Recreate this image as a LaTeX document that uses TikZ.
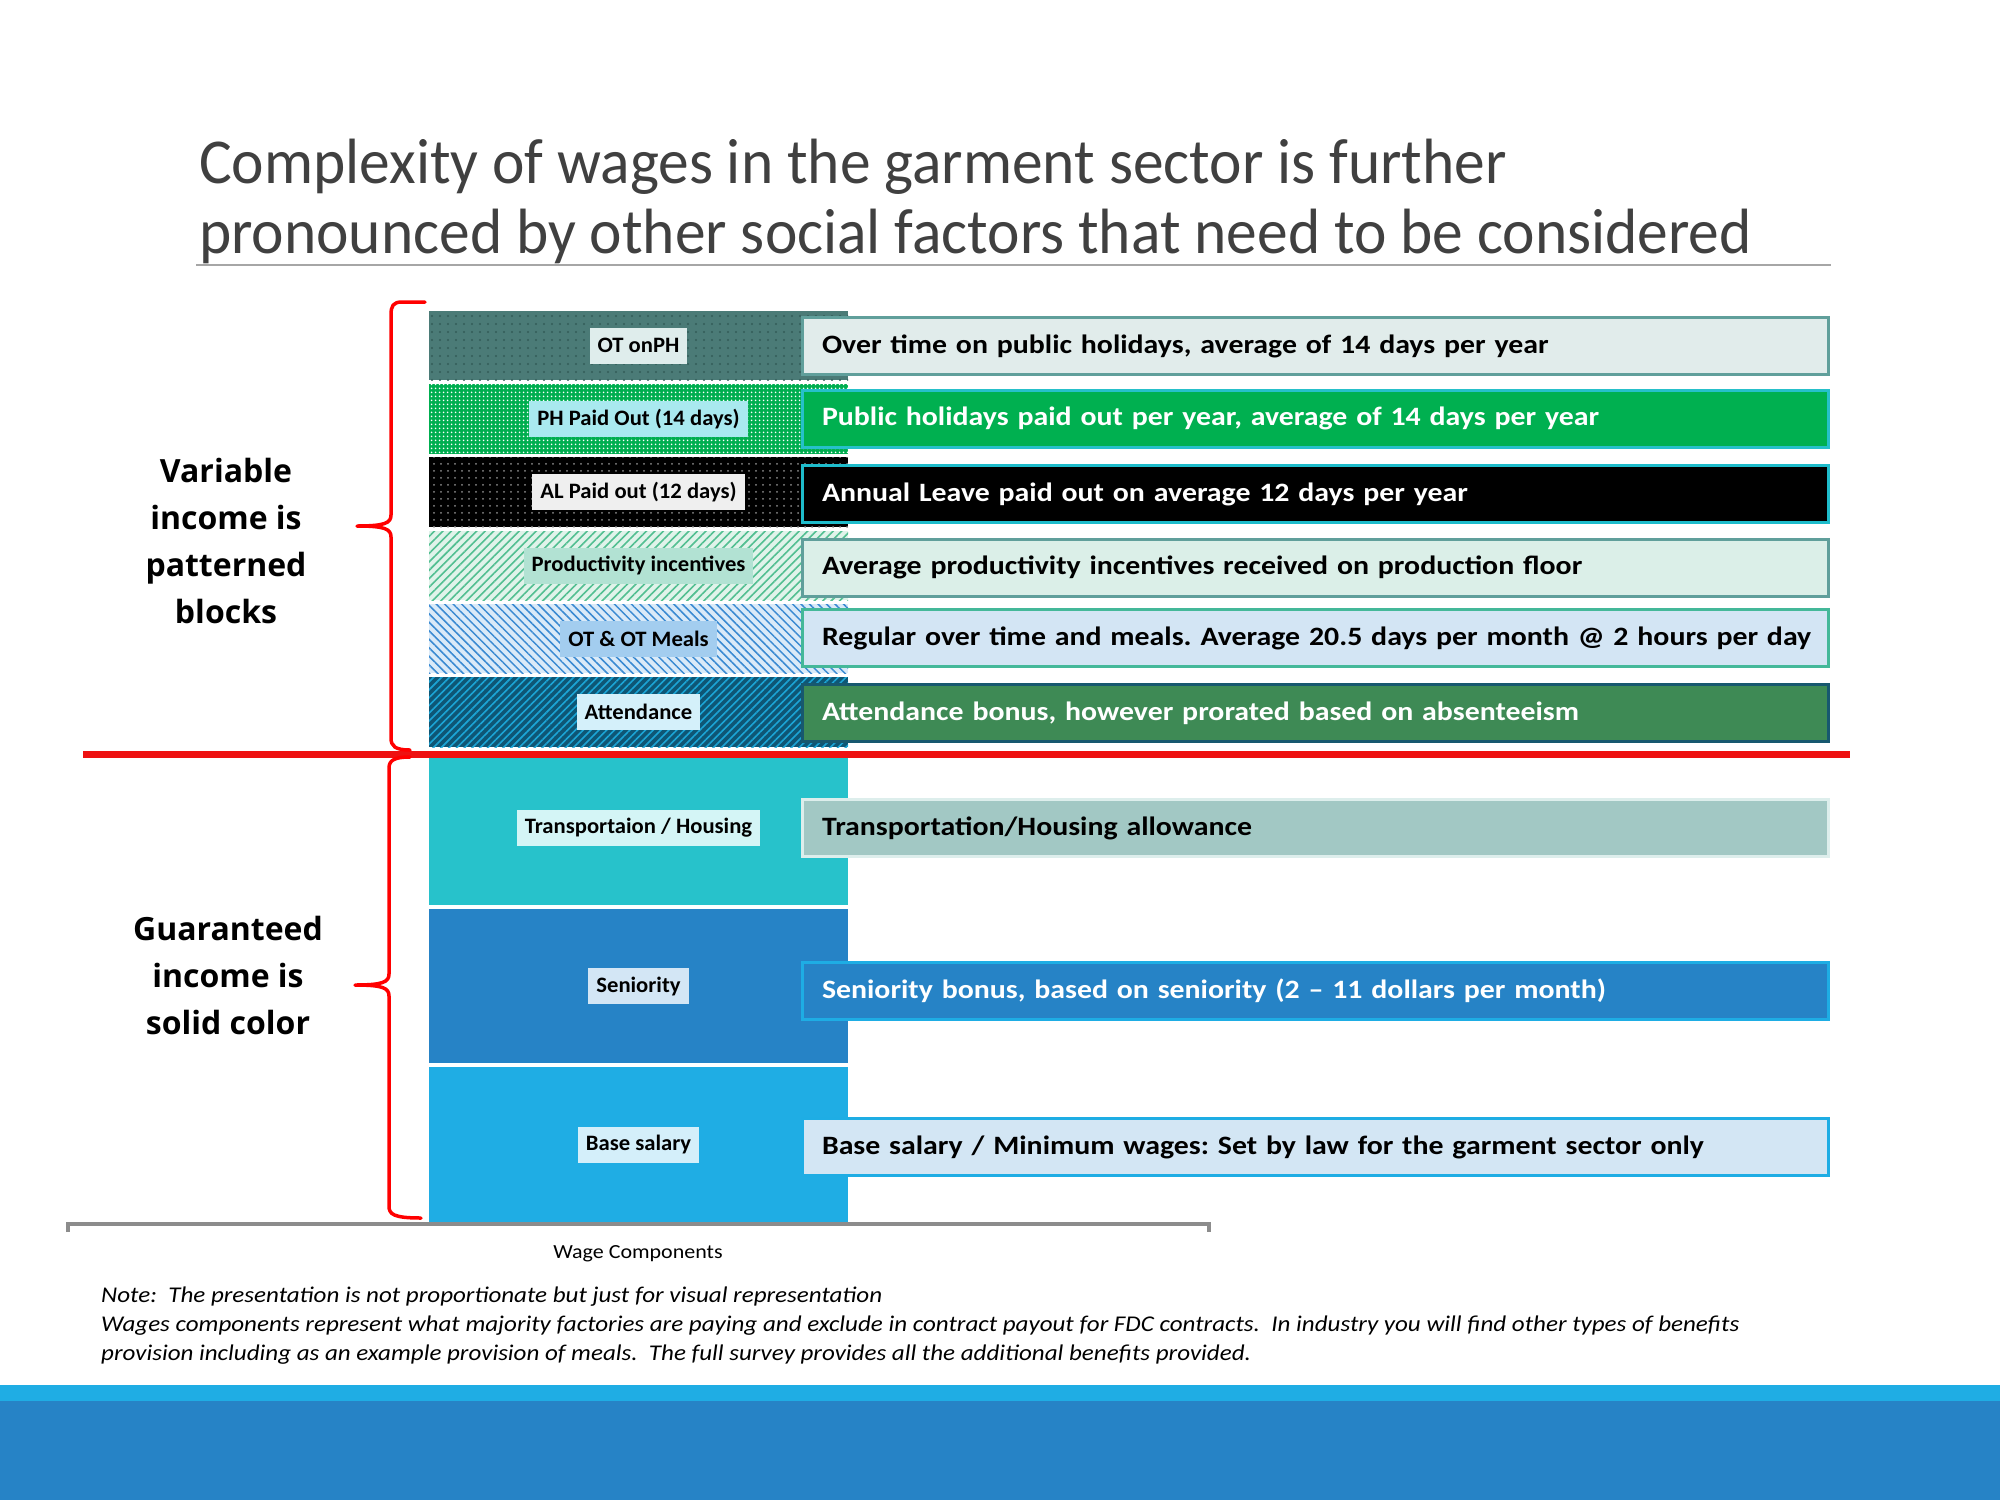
\documentclass[tikz,border=0pt]{standalone}
\usepackage{fontspec}
\setmainfont{Carlito}
\newfontfamily\sidefont{Open Sans}
\newfontfamily\descfont[FakeStretch=1.126]{Carlito}
\newfontfamily\titlefont[FakeStretch=0.96]{Carlito}
\newfontfamily\notefont[FakeStretch=1.113]{Carlito}
\newfontfamily\wagefont[FakeStretch=1.1]{Carlito}
\newfontfamily\tagfont[FakeStretch=1.03]{Carlito}
\usetikzlibrary{patterns.meta}
\frenchspacing
\definecolor{ttl}{HTML}{404040}
\definecolor{rulegray}{HTML}{A6A6A6}
\definecolor{bracered}{HTML}{FF0000}
\definecolor{linered}{HTML}{EE1111}
\definecolor{axisgray}{HTML}{8C8C8C}
\definecolor{bA}{HTML}{4B7B77}\definecolor{bAd}{HTML}{335C58}
\definecolor{bB}{HTML}{00AE50}
\definecolor{bCd}{HTML}{8A8A8A}
\definecolor{bD}{HTML}{E0F3EA}\definecolor{bDl}{HTML}{52BF91}
\definecolor{bE}{HTML}{DAEAF8}\definecolor{bEl}{HTML}{3A8AD2}
\definecolor{bF}{HTML}{0E5675}\definecolor{bFl}{HTML}{1CA5D6}
\definecolor{bG}{HTML}{27C2CB}
\definecolor{bH}{HTML}{2683C6}
\definecolor{bI}{HTML}{1FADE4}
\definecolor{lA}{HTML}{DFEDEC}\definecolor{lB}{HTML}{A9E9EF}\definecolor{lC}{HTML}{EFEFEF}
\definecolor{lD}{HTML}{B2E2D3}\definecolor{lE}{HTML}{A3CDEF}\definecolor{lF}{HTML}{D4F0FA}
\definecolor{lG}{HTML}{D4F5F6}\definecolor{lH}{HTML}{D3E6F5}\definecolor{lI}{HTML}{D4EFFA}
\definecolor{dA}{HTML}{E1ECEB}\definecolor{dAb}{HTML}{609F9B}
\definecolor{dB}{HTML}{00B050}\definecolor{dBb}{HTML}{26C0CA}
\definecolor{dCb}{HTML}{1EBCCB}
\definecolor{dD}{HTML}{DBEFE8}
\definecolor{dE}{HTML}{D3E5F4}\definecolor{dEb}{HTML}{44B899}
\definecolor{dF}{HTML}{3E8A55}\definecolor{dFb}{HTML}{17586F}
\definecolor{dG}{HTML}{A2C8C4}\definecolor{dGb}{HTML}{DDEEEC}
\definecolor{dH}{HTML}{2683C6}\definecolor{dHb}{HTML}{1EADE4}
\definecolor{dI}{HTML}{D3E6F4}
\definecolor{bandlight}{HTML}{1FADE4}
\definecolor{banddark}{HTML}{2683C6}
\begin{document}
\begin{tikzpicture}[x=1pt,y=-1pt,
  bar/.style={anchor=north west, inner sep=0pt, outer sep=0pt, minimum width=419pt},
  tag/.style={font=\tagfont\bfseries\fontsize{22}{25}\selectfont, inner xsep=8pt, inner ysep=0pt, minimum height=36pt, text=black},
  desc/.style={anchor=west, text width=986pt, inner xsep=20pt, inner ysep=0pt, minimum height=57pt, line width=3pt, font=\descfont\bfseries\fontsize{26.5}{30}\selectfont, align=left},
  brace/.style={draw=bracered, line width=3.5pt, line cap=round, line join=round},
  side/.style={font=\sidefont\bfseries\fontsize{32}{47}\selectfont, align=center, anchor=north, inner sep=0pt},
  titletext/.style={anchor=base west, inner sep=0pt, text=ttl, font=\titlefont\fontsize{64}{70}\selectfont},
  notetext/.style={anchor=base west, inner sep=0pt, font=\notefont\itshape\fontsize{22.5}{26}\selectfont},
]
\useasboundingbox (0,0) rectangle (2000,1500);

% title
\node[titletext] (t1) at (199,183) {Complexity of wages in the garment sector is further};
\node[titletext] (t2) at (199,253) {pronounced by other social factors that need to be considered};
\draw[rulegray, line width=2pt] (196,265) -- (1831,265);

% bars
\node[bar, minimum height=69pt, preaction={fill=bA}, pattern={Dots[radius=1.2pt,distance=8pt]}, pattern color=bAd] (b1) at (429,311) {};
\node[bar, minimum height=70pt, preaction={fill=bB}, pattern={Dots[radius=1.1pt,distance=4pt]}, pattern color=white] (b2) at (429,384) {};
\node[bar, minimum height=70pt, preaction={fill=black}, pattern={Dots[radius=1pt,distance=7pt]}, pattern color=bCd] (b3) at (429,457) {};
\node[bar, minimum height=69pt, preaction={fill=bD}, pattern={Lines[angle=45,distance=6pt,line width=1.6pt]}, pattern color=bDl] (b4) at (429,531) {};
\node[bar, minimum height=69pt, preaction={fill=bE}, pattern={Lines[angle=-45,distance=6pt,line width=1.5pt]}, pattern color=bEl] (b5) at (429,604) {};
\node[bar, minimum height=70pt, preaction={fill=bF}, pattern={Lines[angle=45,distance=5.5pt,line width=1.6pt]}, pattern color=bFl] (b6) at (429,677) {};
\node[bar, minimum height=148pt, fill=bG] (b7) at (429,757) {};
\node[bar, minimum height=154pt, fill=bH] (b8) at (429,909) {};
\node[bar, minimum height=155pt, fill=bI] (b9) at (429,1067) {};

% bar labels
\node[tag, fill=lA] (l1) at (b1.center) {OT onPH};
\node[tag, fill=lB] (l2) at (b2.center) {PH Paid Out (14 days)};
\node[tag, fill=lC] (l3) at (b3.center) {AL Paid out (12 days)};
\node[tag, fill=lD] (l4) at (b4.center) {Productivity incentives};
\node[tag, fill=lE] (l5) at (b5.center) {OT \& OT Meals};
\node[tag, fill=lF] (l6) at (b6.center) {Attendance};
\node[tag, fill=lG] (l7) at (638.5,828) {Transportaion / Housing};
\node[tag, fill=lH] (l8) at (b8.center) {Seniority};
\node[tag, fill=lI] (l9) at (b9.center) {Base salary};

% descriptions
\node[desc, fill=dA, draw=dAb] (d1) at (800.5,346) {\mbox{Over time on public holidays, average of 14 days per year}};
\node[desc, fill=dB, draw=dBb, text=white] (d2) at (800.5,418.5) {\mbox{Public holidays paid out per year, average of 14 days per year}};
\node[desc, fill=black, draw=dCb, text=white] (d3) at (800.5,494) {\mbox{Annual Leave paid out on average 12 days per year}};
\node[desc, fill=dD, draw=dAb] (d4) at (800.5,567.5) {\mbox{Average productivity incentives received on production floor}};
\node[desc, fill=dE, draw=dEb] (d5) at (800.5,638) {\mbox{Regular over time and meals. Average 20.5 days per month @ 2 hours per day}};
\node[desc, fill=dF, draw=dFb, text=white] (d6) at (800.5,713) {\mbox{Attendance bonus, however prorated based on absenteeism}};
\node[desc, fill=dG, draw=dGb] (d7) at (800.5,828) {\mbox{Transportation/Housing allowance}};
\node[desc, fill=dH, draw=dHb, text=white] (d8) at (800.5,991) {\mbox{Seniority bonus, based on seniority (2 – 11 dollars per month)}};
\node[desc, fill=dI, draw=dHb] (d9) at (800.5,1147) {\mbox{Base salary / Minimum wages: Set by law for the garment sector only}};

% divider
\draw[linered, line width=7pt] (83,754) -- (1850,754);

% braces
\draw[brace] (425,302) -- (402,302) .. controls (393,302) and (391,306) .. (391,315) -- (391,515) .. controls (391,523) and (385,526) .. (357,526) .. controls (385,526) and (391,529) .. (391,537) -- (391,738) .. controls (391,746) and (395,750) .. (410,750);
\draw[brace] (410,757) .. controls (395,757) and (389,760) .. (389,768) -- (389,974) .. controls (389,982) and (383,985) .. (355,985) .. controls (383,985) and (389,988) .. (389,996) -- (389,1206) .. controls (389,1214) and (393,1218) .. (421,1218);

% side labels
\node[side] (vl) at (226,457.5) {Variable\\income is\\patterned\\blocks};
\node[side] (gl) at (228,915.5) {Guaranteed\\income is\\solid color};

% axis
\draw[axisgray, line width=4pt] (68,1232) -- (68,1224) -- (1209,1224) -- (1209,1232);
\node[anchor=base, inner sep=0pt, font=\wagefont\fontsize{20}{24}\selectfont] (wc) at (638,1258) {Wage Components};

% notes
\node[notetext] (n1) at (101,1302) {Note:~ The presentation is not proportionate but just for visual representation};
\node[notetext] (n2) at (101,1331) {Wages components represent what majority factories are paying and exclude in contract payout for FDC contracts.~ In industry you will find other types of benefits};
\node[notetext] (n3) at (101,1360) {provision including as an example provision of meals.~ The full survey provides all the additional benefits provided.};

% bottom band
\fill[bandlight] (0,1385) rectangle (2000,1401);
\fill[banddark] (0,1401) rectangle (2000,1500);
\end{tikzpicture}
\end{document}
